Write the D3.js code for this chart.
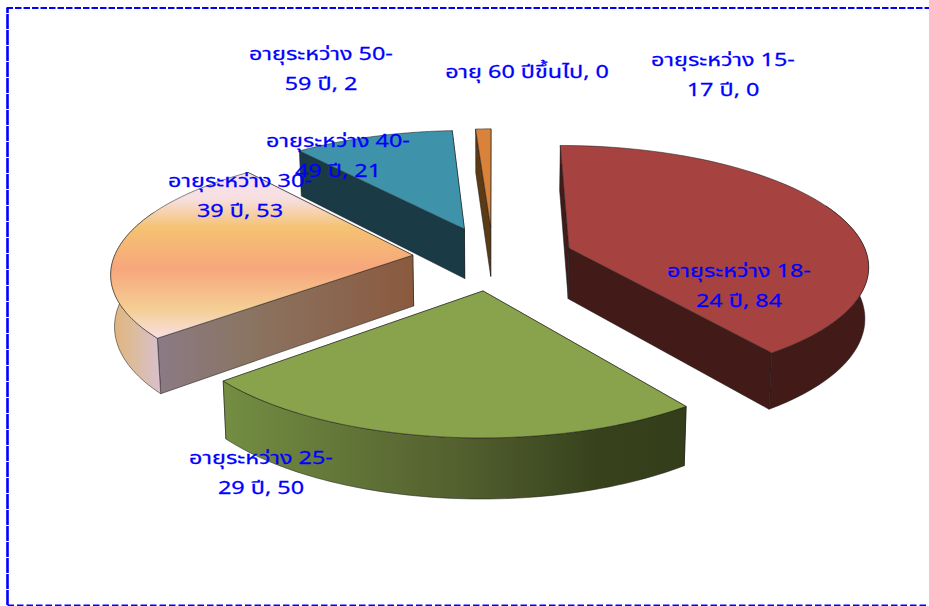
<!DOCTYPE html>
<html><head><meta charset="utf-8">
<script src="https://cdn.jsdelivr.net/npm/d3@7"></script>
<style>html,body{margin:0;padding:0;background:#fff;overflow:hidden}svg{display:block}
text{font-family:Tahoma,"Noto Sans Thai","Noto Sans","DejaVu Sans",sans-serif;font-size:18px;fill:#0000ff;stroke:#0000ff;stroke-width:.25;text-anchor:middle}</style>
</head><body><svg id="c" width="929" height="606"></svg>
<script>
const categories=["อายุระหว่าง 15-17 ปี","อายุระหว่าง 18-24 ปี","อายุระหว่าง 25-29 ปี","อายุระหว่าง 30-39 ปี","อายุระหว่าง 40-49 ปี","อายุระหว่าง 50-59 ปี","อายุ 60 ปีขึ้นไป"];
const values=[0,84,50,53,21,2,0];
const topColors=["#4f81bd","#a64340","#88a34c","url(#gTop)","#3e92aa","#d9823a","#8aa"];
const wallColors=["#234","#421a18","url(#gGreen)","url(#gOrW)","#1a3a46","#5c3a14","#345"];
const arcWallColors=["#234","#421a18","url(#gGreen)","url(#gOrA)","#1a3a46","#5c3a14","#345"];
const labelLines=[["อายุระหว่าง 15-","17 ปี, 0"],["อายุระหว่าง 18-","24 ปี, 84"],["อายุระหว่าง 25-","29 ปี, 50"],["อายุระหว่าง 30-","39 ปี, 53"],["อายุระหว่าง 40-","49 ปี, 21"],["อายุระหว่าง 50-","59 ปี, 2"],["อายุ 60 ปีขึ้นไป, 0"]];
const labelAt=[[723,66],[739,277],[261,464],[240,187],[338,147],[321,60],[527,78]];
const drawOrder=[4,5,3,1,2];

const svg=d3.select("#c");
const defs=svg.append("defs");
function grad(id,x1,y1,x2,y2,stops){
  const g=defs.append("linearGradient").attr("id",id).attr("gradientUnits","userSpaceOnUse")
    .attr("x1",x1).attr("y1",y1).attr("x2",x2).attr("y2",y2);
  stops.forEach(s=>g.append("stop").attr("offset",s[0]).attr("stop-color",s[1]));
}
grad("gTop",0,170,0,340,[[0,"#f8e4ee"],[.17,"#f7dfe0"],[.34,"#f5c272"],[.58,"#f7a67c"],[.82,"#f5cf95"],[1,"#f8e0e8"]]);
grad("gOrA",107,0,160,0,[[0,"#e3b172"],[.5,"#dcbc9c"],[1,"#d8c0cc"]]);
grad("gOrW",160,0,413,0,[[0,"#8b7a84"],[.35,"#8a7462"],[.7,"#8a6650"],[1,"#8a5a3e"]]);
grad("gGreen",225,0,690,0,[[0,"#738d42"],[.5,"#53602f"],[.8,"#37421c"],[1,"#343d1a"]]);

const pie=d3.pie().sort(null).startAngle(0).endAngle(2*Math.PI);
const arcs=pie(values);
// plane-to-screen perspective projection
const cx=493,cy=258,R=299,S=118.5,k=0.13,explode=0.27,depth=51;
function project(X,Y,z){
  const d=1+k*Y, s=z?0.99:1;
  return [cx+s*R*X/d, cy-S*Y/d+(z?depth/d:0)];
}
const line=d3.line();
const stroke="#1a1a1a";
drawOrder.forEach(i=>{
  const a=arcs[i], mid=(a.startAngle+a.endAngle)/2;
  const ox=explode*Math.sin(mid), oy=explode*Math.cos(mid);
  const apex=z=>project(ox,oy,z);
  const rim=(t,z)=>project(ox+Math.sin(t),oy+Math.cos(t),z);
  const ts=d3.range(0,65).map(j=>a.startAngle+(a.endAngle-a.startAngle)*j/64);
  const g=svg.append("g");
  const wall=(pts,fill)=>g.append("path").attr("d",line(pts)+"Z").attr("fill",fill)
      .attr("stroke",stroke).attr("stroke-width",.7).attr("stroke-opacity",.75).attr("stroke-linejoin","round");
  [a.startAngle,a.endAngle].sort((p,q)=>Math.cos(q)-Math.cos(p)).forEach(t=>
    wall([apex(false),rim(t,false),rim(t,true),apex(true)],wallColors[i]));
  const vis=ts.filter(t=>Math.cos(t)<0.4);
  if(vis.length>1) wall(vis.map(t=>rim(t,false)).concat(vis.slice().reverse().map(t=>rim(t,true))),arcWallColors[i]);
  wall([apex(false)].concat(ts.map(t=>rim(t,false))),topColors[i]);
});
// outer frame
svg.append("path").attr("d","M7.5 605V8").attr("fill","none").attr("stroke","#0000ff").attr("stroke-width",2.6).attr("stroke-dasharray","15,1");
svg.append("path").attr("d","M6.5 8H935").attr("fill","none").attr("stroke","#0000ff").attr("stroke-width",2.2).attr("stroke-dasharray","6.5,2");
svg.append("path").attr("d","M7.5 605.2H935").attr("fill","none").attr("stroke","#0000ff").attr("stroke-width",1.4).attr("stroke-dasharray","6.5,3");
// labels
const lab=svg.selectAll("g.l").data(categories).join("g").attr("class","l")
  .attr("transform",(d,i)=>`translate(${labelAt[i]}) scale(1.3,1)`);
lab.each(function(d,i){
  d3.select(this).selectAll("text").data(labelLines[i]).join("text").attr("y",(t,j)=>j*30).text(t=>t);
});
</script></body></html>
